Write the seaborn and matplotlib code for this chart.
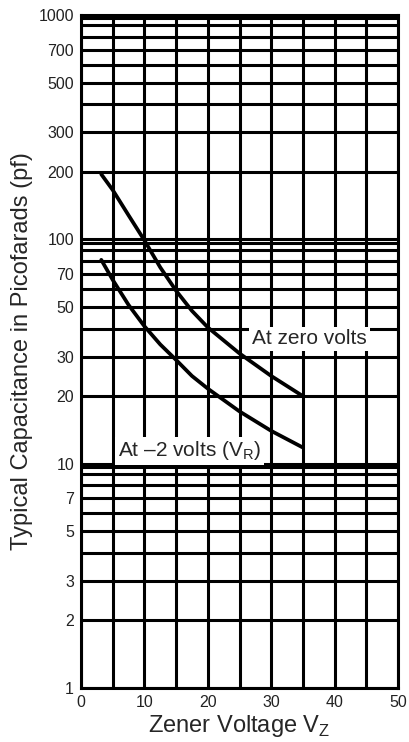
import matplotlib
matplotlib.use("Agg")
import matplotlib.pyplot as plt
import seaborn as sns
import pandas as pd
import numpy as np
from matplotlib.ticker import FixedLocator, NullFormatter, FixedFormatter

# ---- data ----
vz_zero = [3.2, 5, 7.5, 10, 12.5, 15, 17.5, 20, 25, 30, 35]
cap_zero = [195, 166, 128, 99, 75, 59, 48, 40.5, 31, 24.6, 20]
vz_m2 = [3.2, 5, 7.5, 10, 12.5, 15, 17.5, 20, 25, 30, 35]
cap_m2 = [81, 66, 51, 41, 34, 29, 24.6, 21.6, 17.1, 14, 11.8]

y_tick_values = [1, 2, 3, 5, 7, 10, 20, 30, 50, 70, 100, 200, 300, 500, 700, 1000]
y_tick_labels = ["1", "2", "3", "5", "7", "10", "20", "30", "50", "70",
                 "100", "200", "300", "500", "700", "1000"]
x_tick_values = [0, 10, 20, 30, 40, 50]
decades = [10, 100, 1000]

sns.set_style("white")
plt.rcParams['font.family'] = ['Liberation Sans', 'DejaVu Sans']
plt.rcParams['mathtext.fontset'] = 'custom'
plt.rcParams['mathtext.rm'] = 'Liberation Sans'

fig = plt.figure(figsize=(4.09, 7.42), dpi=100)
ax = fig.add_axes([81/409, 1 - 688/742, (398 - 81)/409, (688 - 15)/742])
ax.set_yscale("log")
ax.set_xlim(0, 50)
ax.set_ylim(1, 1000)

# grid lines
lw_grid = 2.2
for d in [1, 10, 100]:
    for m in range(1, 10):
        ax.axhline(d * m, color="black", lw=lw_grid, zorder=1)
ax.axhline(1000, color="black", lw=lw_grid, zorder=1)
for d in decades:
    ax.axhline(d * 0.965, color="black", lw=lw_grid, zorder=1)
for xv in np.arange(0, 51, 5):
    ax.axvline(xv, color="black", lw=lw_grid, zorder=1)

df = pd.concat([
    pd.DataFrame({"Vz": vz_zero, "C": cap_zero, "s": "zero"}),
    pd.DataFrame({"Vz": vz_m2, "C": cap_m2, "s": "m2"}),
])
sns.lineplot(data=df, x="Vz", y="C", units="s", estimator=None,
             color="black", lw=2.7, ax=ax, zorder=3)

ax.text(27, 36, "At zero volts", fontsize=15, ha="left", va="center",
        zorder=5, bbox=dict(facecolor="white", edgecolor="none", pad=2))
ax.text(5.8, 11.4, "At \u20132 volts (V$_\\mathregular{R}$)", fontsize=15,
        ha="left", va="center", zorder=5,
        bbox=dict(facecolor="white", edgecolor="none", pad=2))

ax.yaxis.set_major_locator(FixedLocator(y_tick_values))
ax.yaxis.set_major_formatter(FixedFormatter(y_tick_labels))
ax.yaxis.set_minor_formatter(NullFormatter())
ax.yaxis.set_minor_locator(FixedLocator([]))
ax.set_xticks(x_tick_values)
ax.tick_params(axis="both", length=0, labelsize=11.5, colors="#222222", pad=5)

for sp in ax.spines.values():
    sp.set_color("black")
    sp.set_linewidth(2.2)
    sp.set_visible(True)

ax.set_xlabel("Zener Voltage V$_\\mathregular{Z}$", fontsize=17, labelpad=2)
ax.set_ylabel("Typical Capacitance in Picofarads (pf)", fontsize=17, labelpad=4)

fig.savefig("out.png", dpi=100)
